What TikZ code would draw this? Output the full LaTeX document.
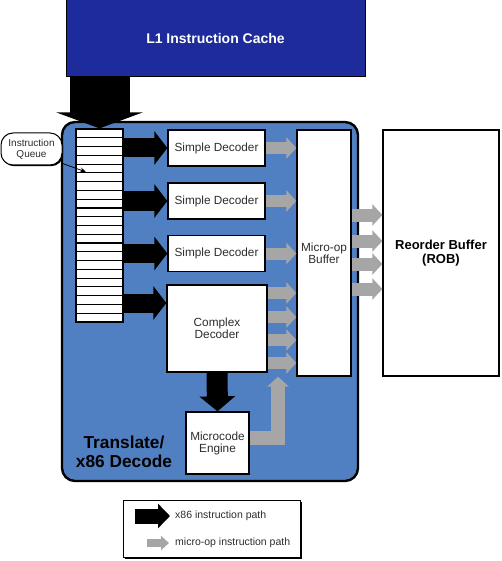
\documentclass[tikz,border=0pt]{standalone}
\usepackage{fontspec}
\setmainfont{Liberation Sans}
\usetikzlibrary{arrows.meta,shadows}
\definecolor{cacheblue}{RGB}{29,44,154}
\definecolor{decodeblue}{RGB}{80,128,194}
\definecolor{uopgray}{RGB}{166,166,166}
\definecolor{txtgray}{RGB}{45,45,45}
\begin{document}
\begin{tikzpicture}[x=1pt,y=-1pt,
  unit/.style={draw, line width=1.3pt, fill=white, inner sep=0pt, align=center,
    text=txtgray, font=\fontsize{11.8}{12}\selectfont},
  xpath/.style args={#1/#2/#3}{line width=#1pt, -{Triangle[width=#2pt,length=#3pt]}},
  upath/.style args={#1/#2/#3}{draw=uopgray, line width=#1pt, -{Triangle[width=#2pt,length=#3pt]}},
  legtext/.style={anchor=west, inner sep=0pt, text=txtgray, font=\fontsize{10.5}{12}\selectfont},
  shadowed/.style={drop shadow={shadow xshift=#1pt, shadow yshift=-#1pt, opacity=1, fill=black}}]
  \useasboundingbox (0,0) rectangle (501,561);
  % cache and decode block
  \node[draw, line width=1pt, fill=cacheblue, minimum width=299pt, minimum height=77pt,
    text=white, font=\bfseries\fontsize{14}{16}\selectfont] (cache) at (215.5,38.5) {L1 Instruction Cache};
  \node[draw, line width=2.4pt, fill=decodeblue, rounded corners=13pt,
    minimum width=296pt, minimum height=359pt] (decode) at (210,301.5) {};
  \node[font=\bfseries\fontsize{17.3}{18.5}\selectfont, align=center] (tlabel) at (124,452) {Translate/\\x86 Decode};
  % instruction queue
  \node[draw, line width=1.2pt, fill=white, minimum width=47pt, minimum height=193pt] (queue) at (99.5,225.5) {};
  \foreach \i in {1,...,21}
    \draw[line width=1.1pt] (queue.west |- 0,{129+\i*193/22}) -- (queue.east |- 0,{129+\i*193/22});
  \node[draw, line width=1pt, fill=white, rounded corners=12pt, minimum width=61pt, minimum height=32pt,
    inner sep=0pt, align=center, text=txtgray, font=\fontsize{10}{11}\selectfont, shadowed=1.2] (iqlabel) at (31.5,149) {Instruction\\Queue};
  \coordinate (iqtip) at (86,172);
  \draw[line width=0.8pt, -{Stealth[length=6pt,width=5pt]}] (iqlabel.-25) -- (iqtip);
  % decoders and buffers
  \node[unit, minimum width=97pt, minimum height=36pt] (sd1) at (216.5,148) {Simple Decoder};
  \node[unit, minimum width=97pt, minimum height=36pt] (sd2) at (216.5,201) {Simple Decoder};
  \node[unit, minimum width=97pt, minimum height=36pt] (sd3) at (216.5,253.5) {Simple Decoder};
  \node[unit, minimum width=100pt, minimum height=87pt] (cd) at (217,328.5) {Complex\\Decoder};
  \node[unit, minimum width=63pt, minimum height=62pt] (me) at (217.5,443) {Microcode\\Engine};
  \node[unit, minimum width=54pt, minimum height=246pt] (mb) at (324,253) {Micro-op\\Buffer};
  \node[unit, minimum width=116pt, minimum height=246pt, text=black,
    font=\bfseries\fontsize{13}{14}\selectfont] (rob) at (441,253) {Reorder Buffer\\(ROB)};
  % x86 instruction paths
  \draw[xpath=60/86/16] (cache.south -| queue) -- (queue.north);
  \foreach \d in {sd1,sd2,sd3}
    \draw[xpath=19/33/13] (queue.east |- \d.west) -- (\d.west);
  \draw[xpath=19/33/13] (queue.east |- 0,303) -- (cd.west |- 0,303);
  \draw[xpath=21/35/15] (cd.south) -- (me.north);
  % micro-op paths
  \foreach \d in {sd1,sd2,sd3}
    \draw[upath=12/21/10] (\d.east) -- (mb.west |- \d.east);
  \foreach \y in {293,317,340,363}
    \draw[upath=12/21/10] (cd.east |- 0,\y) -- (mb.west |- 0,\y);
  \draw[upath=14/21/10] (me.east |- 0,438) -| (mb.south -| 278,0);
  \foreach \y in {215,241,264,289}
    \draw[upath=13/21/10] (mb.east |- 0,\y) -- (rob.west |- 0,\y);
  % legend
  \node[draw, line width=1pt, fill=white, minimum width=177pt, minimum height=57pt, shadowed=2] (legend) at (211.5,528.5) {};
  \coordinate (lx0) at (135,516); \coordinate (lx1) at (170,516);
  \coordinate (lu0) at (147,543); \coordinate (lu1) at (169,543);
  \draw[xpath=15/24/12] (lx0) -- (lx1);
  \draw[upath=8/14/8] (lu0) -- (lu1);
  \node[legtext] (lxtext) at (175,516) {x86 instruction path};
  \node[legtext] (lutext) at (175,543) {micro-op instruction path};
\end{tikzpicture}
\end{document}
